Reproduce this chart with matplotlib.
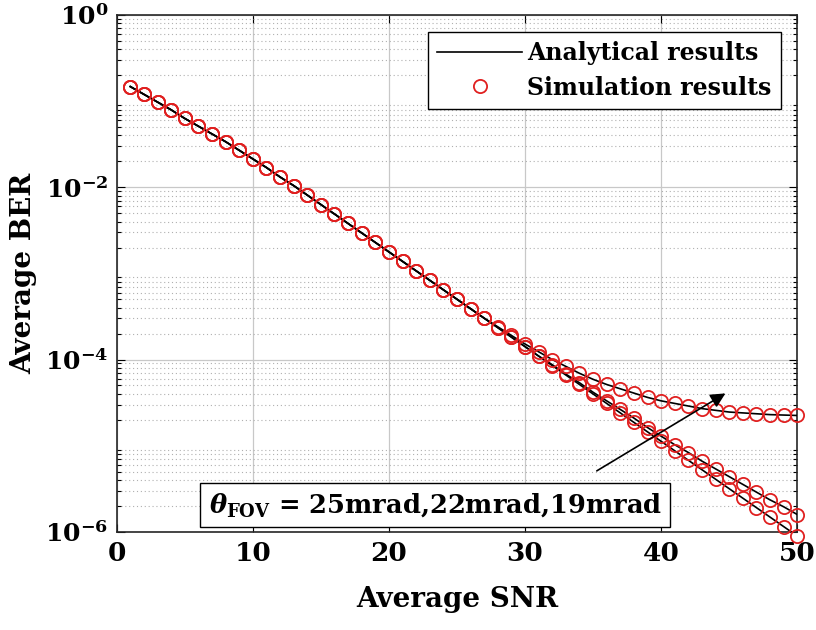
import numpy as np
import matplotlib.pyplot as plt
from matplotlib.ticker import LogLocator, NullFormatter

# average SNR (dB) values of every simulated point
snr = list(range(1, 51))

# log10(BER), one list per field of view
# shared part, SNR 1..27
common = [-0.83, -0.92, -1.01, -1.10, -1.20, -1.29, -1.38, -1.47, -1.57, -1.67,
          -1.77, -1.88, -1.98, -2.09, -2.20, -2.31, -2.42, -2.53, -2.64, -2.75,
          -2.86, -2.97, -3.08, -3.19, -3.30, -3.41, -3.52]
# SNR 28..50
tail_25 = [-3.62, -3.72, -3.82, -3.91, -4.00, -4.08, -4.16, -4.23, -4.29, -4.34,
           -4.39, -4.44, -4.48, -4.51, -4.54, -4.57, -4.59, -4.61, -4.62, -4.63,
           -4.64, -4.645, -4.65]
tail_22 = [-3.63, -3.74, -3.85, -3.96, -4.06, -4.17, -4.27, -4.38, -4.48, -4.58,
           -4.68, -4.79, -4.89, -4.99, -5.08, -5.18, -5.27, -5.36, -5.45, -5.54,
           -5.63, -5.71, -5.80]
tail_19 = [-3.63, -3.74, -3.85, -3.96, -4.07, -4.18, -4.29, -4.40, -4.51, -4.62,
           -4.73, -4.84, -4.95, -5.06, -5.17, -5.28, -5.39, -5.50, -5.61, -5.72,
           -5.83, -5.94, -6.05]

xticks = [0, 10, 20, 30, 40, 50]
yticks = [1e-6, 1e-4, 1e-2, 1e0]
ytick_labels = [r'$\mathbf{10^{-6}}$', r'$\mathbf{10^{-4}}$',
                r'$\mathbf{10^{-2}}$', r'$\mathbf{10^{0}}$']

plt.rcParams['font.family'] = 'DejaVu Serif'
plt.rcParams['font.weight'] = 'bold'
plt.rcParams['mathtext.fontset'] = 'dejavuserif'

fig = plt.figure(figsize=(8.16, 6.3), dpi=100)
ax = fig.add_axes([0.143, 0.156, 0.834, 0.820])

curves = [common + tail_25, common + tail_22, common + tail_19]
for i, c in enumerate(curves):
    ber = 10.0 ** np.array(c)
    ax.semilogy(snr, ber, color='black', lw=1.2, zorder=3,
                label='Analytical results' if i == 0 else None)
    ax.semilogy(snr, ber, ls='none', marker='o', ms=9.5, mfc='none',
                mec='#e02020', mew=1.3, clip_on=False, zorder=4,
                label='Simulation results' if i == 0 else None)

ax.set_xlim(0, 50)
ax.set_ylim(1e-6, 1e0)
ax.set_xticks(xticks, labels=[str(t) for t in xticks])
ax.set_yticks(yticks, labels=ytick_labels)
ax.yaxis.set_minor_locator(LogLocator(base=10, subs=np.arange(2, 10), numticks=20))
ax.yaxis.set_minor_formatter(NullFormatter())

ax.tick_params(which='both', direction='in', top=True, right=True, width=0.8)
ax.tick_params(axis='x', labelsize=19, pad=7)
ax.tick_params(axis='y', labelsize=18, pad=6)
ax.tick_params(which='major', length=6)
ax.tick_params(which='minor', length=3)

ax.grid(True, which='major', color='#c8c8c8', lw=0.9, ls='-')
ax.yaxis.grid(True, which='minor', color='#b0b0b0', lw=0.8, ls=(0, (1, 2.5)))
ax.set_axisbelow(True)
for s in ax.spines.values():
    s.set_linewidth(1.2)
    s.set_color('#262626')

ax.set_xlabel('Average SNR', fontsize=20, fontweight='bold', labelpad=14)
ax.set_ylabel('Average BER', fontsize=20, fontweight='bold', labelpad=6)

leg = ax.legend(loc='upper right', fontsize=17, frameon=True, fancybox=False,
                edgecolor='black', framealpha=1, handlelength=3.6,
                borderaxespad=0.7, handletextpad=0.2, borderpad=0.4,
                labelspacing=0.45)
leg.get_frame().set_linewidth(1.0)

ax.annotate('', xy=(44.9, 4.2e-5), xytext=(35.1, 4.9e-6),
            arrowprops=dict(arrowstyle='-|>', color='black', lw=1.2,
                            mutation_scale=22), zorder=5)
ax.text(0.135, 0.052, r'$\theta_{\mathbf{FOV}}$ = 25mrad,22mrad,19mrad',
        transform=ax.transAxes, fontsize=18.5, fontweight='bold', va='center',
        ha='left', zorder=6,
        bbox=dict(boxstyle='square,pad=0.32', fc='white', ec='black', lw=1.0))

fig.savefig('out.png', dpi=100)
